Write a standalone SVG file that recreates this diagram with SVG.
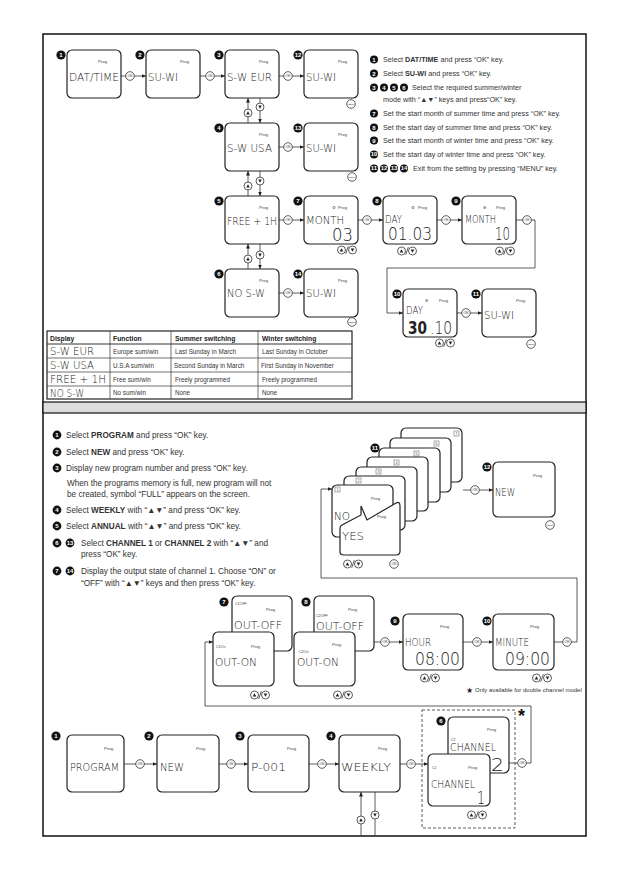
<svg xmlns="http://www.w3.org/2000/svg" width="629" height="893" viewBox="0 0 629 893">
<style>
.box{fill:#fff;stroke:#222;stroke-width:1.2}
.ln{fill:none;stroke:#333;stroke-width:0.8}
.bdc{fill:#111}
.bdt{fill:#fff;font-family:"Liberation Sans",Arial,sans-serif;font-weight:bold;font-size:6px;text-anchor:middle}
.prog{fill:#444;font-family:"Liberation Sans",Arial,sans-serif;font-size:4.3px}
.sm{fill:#444;font-family:"Liberation Sans",Arial,sans-serif;font-size:3.6px}
.lcd{fill:#222;font-family:"DejaVu Sans","Liberation Sans",sans-serif;font-weight:200;font-size:10.5px}
.big{fill:#222;font-family:"DejaVu Sans","Liberation Sans",sans-serif;font-weight:200;font-size:17px}
.bold{font-weight:bold}
.ins{fill:#333;font-family:"Liberation Sans",Arial,sans-serif;font-size:7.2px}
.ins2{fill:#333;font-family:"Liberation Sans",Arial,sans-serif;font-size:8.2px}
.tb{fill:#333;font-family:"Liberation Sans",Arial,sans-serif;font-size:6.3px}
.th{fill:#222;font-family:"Liberation Sans",Arial,sans-serif;font-size:6.8px;font-weight:bold}
</style>
<defs>
<marker id="ah" markerUnits="userSpaceOnUse" viewBox="0 0 6 6" refX="6" refY="3" markerWidth="4.5" markerHeight="4.5" orient="auto"><path d="M0,0.4 L6,3 L0,5.6z" fill="#222"/></marker>
<g id="ok"><circle r="4.3" fill="#fff" stroke="#333" stroke-width="0.8"/><text y="1.3" font-family="Liberation Sans,Arial,sans-serif" font-size="3.6" text-anchor="middle" fill="#333">OK</text></g>
<g id="menu"><circle r="4.3" fill="#fff" stroke="#333" stroke-width="0.8"/><text y="0.8" font-family="Liberation Sans,Arial,sans-serif" font-size="2.3" text-anchor="middle" fill="#333">MENU</text></g>
<g id="up"><circle r="4" fill="#fff" stroke="#333" stroke-width="0.8"/><path d="M-1.8,1.4 L1.8,1.4 L0,-1.8z" fill="#222"/></g>
<g id="dn"><circle r="4" fill="#fff" stroke="#333" stroke-width="0.8"/><path d="M-1.8,-1.4 L1.8,-1.4 L0,1.8z" fill="#222"/></g>
<g id="ud"><use href="#up" x="-5.5"/><use href="#dn" x="5.5"/><line x1="-1.3" y1="3.8" x2="1.3" y2="-3.8" stroke="#333" stroke-width="0.8"/></g>
</defs>
<rect width="629" height="893" fill="#fff"/>
<rect x="43" y="34" width="543" height="802" fill="none" stroke="#111" stroke-width="1.5"/>
<rect x="43" y="402" width="543" height="11" fill="#dcdcdc" stroke="#111" stroke-width="1.2"/>

<!-- Section 1 connectors -->
<g id="connectors-1">
<line class="ln" x1="121" y1="76" x2="146" y2="76" marker-end="url(#ah)"/>
<line class="ln" x1="200" y1="76" x2="225" y2="76" marker-end="url(#ah)"/>
<line class="ln" x1="279" y1="76" x2="304" y2="76" marker-end="url(#ah)"/>
<line class="ln" x1="248" y1="123" x2="248" y2="98" marker-end="url(#ah)"/>
<line class="ln" x1="260" y1="98" x2="260" y2="123" marker-end="url(#ah)"/>
<line class="ln" x1="279" y1="147" x2="304" y2="147" marker-end="url(#ah)"/>
<line class="ln" x1="248" y1="196" x2="248" y2="171" marker-end="url(#ah)"/>
<line class="ln" x1="260" y1="171" x2="260" y2="196" marker-end="url(#ah)"/>
<line class="ln" x1="279" y1="220" x2="304" y2="220" marker-end="url(#ah)"/>
<line class="ln" x1="358" y1="220" x2="383" y2="220" marker-end="url(#ah)"/>
<line class="ln" x1="437" y1="220" x2="462" y2="220" marker-end="url(#ah)"/>
<polyline class="ln" points="516,220 535,220 535,268 387,268 387,313 403,313" marker-end="url(#ah)"/>
<line class="ln" x1="248" y1="269" x2="248" y2="244" marker-end="url(#ah)"/>
<line class="ln" x1="260" y1="244" x2="260" y2="269" marker-end="url(#ah)"/>
<line class="ln" x1="279" y1="293" x2="304" y2="293" marker-end="url(#ah)"/>
<line class="ln" x1="457" y1="313" x2="482" y2="313" marker-end="url(#ah)"/>
<use href="#ok" x="130" y="76"/><use href="#ok" x="210" y="76"/><use href="#ok" x="288" y="76"/>
<use href="#up" x="248" y="113"/><use href="#dn" x="260" y="107"/>
<use href="#ok" x="288" y="147"/>
<use href="#up" x="248" y="186"/><use href="#dn" x="260" y="181"/>
<use href="#ok" x="288" y="220"/><use href="#ok" x="367" y="220"/><use href="#ok" x="446" y="220"/><use href="#ok" x="527" y="220"/>
<use href="#up" x="248" y="259"/><use href="#dn" x="260" y="255"/>
<use href="#ok" x="288" y="293"/><use href="#ok" x="466" y="313"/>
</g>

<!-- Section 1 nodes -->
<g id="s1-n1"><rect class="box" x="67" y="50" width="54" height="48" rx="5"/><circle class="bdc" cx="61" cy="55" r="4.6"/><text class="bdt" x="61" y="57.2">1</text><text class="prog" x="98" y="63">Prog</text><text class="lcd" x="69" y="81" textLength="50" lengthAdjust="spacingAndGlyphs">DAT/TIME</text></g>
<g id="s1-n2"><rect class="box" x="146" y="50" width="54" height="48" rx="5"/><circle class="bdc" cx="140" cy="55" r="4.6"/><text class="bdt" x="140" y="57.2">2</text><text class="prog" x="180" y="63">Prog</text><text class="lcd" x="148" y="81" textLength="30" lengthAdjust="spacingAndGlyphs">SU-WI</text></g>
<g id="s1-n3"><rect class="box" x="225" y="50" width="54" height="48" rx="5"/><circle class="bdc" cx="219" cy="55" r="4.6"/><text class="bdt" x="219" y="57.2">3</text><text class="prog" x="259" y="63">Prog</text><text class="lcd" x="227" y="81" textLength="45" lengthAdjust="spacingAndGlyphs">S-W EUR</text></g>
<g id="s1-n12"><rect class="box" x="304" y="50" width="54" height="48" rx="5"/><circle class="bdc" cx="298" cy="55" r="4.6"/><text class="bdt" x="298" y="57" font-size="5.4">12</text><text class="prog" x="338" y="63">Prog</text><text class="lcd" x="306" y="81" textLength="30" lengthAdjust="spacingAndGlyphs">SU-WI</text><use href="#menu" x="351" y="104"/></g>
<g id="s1-n4"><rect class="box" x="225" y="123" width="54" height="48" rx="5"/><circle class="bdc" cx="219" cy="128" r="4.6"/><text class="bdt" x="219" y="130.2">4</text><text class="prog" x="259" y="136">Prog</text><text class="lcd" x="227" y="152" textLength="45" lengthAdjust="spacingAndGlyphs">S-W USA</text></g>
<g id="s1-n13"><rect class="box" x="304" y="123" width="54" height="48" rx="5"/><circle class="bdc" cx="298" cy="128" r="4.6"/><text class="bdt" x="298" y="130" font-size="5.4">13</text><text class="prog" x="338" y="136">Prog</text><text class="lcd" x="306" y="152" textLength="30" lengthAdjust="spacingAndGlyphs">SU-WI</text><use href="#menu" x="352" y="177"/></g>
<g id="s1-n5"><rect class="box" x="225" y="196" width="54" height="48" rx="5"/><circle class="bdc" cx="219" cy="201" r="4.6"/><text class="bdt" x="219" y="203.2">5</text><text class="prog" x="259" y="209">Prog</text><text class="lcd" x="227" y="225" textLength="50" lengthAdjust="spacingAndGlyphs">FREE + 1H</text></g>
<g id="s1-n7"><rect class="box" x="304" y="196" width="54" height="48" rx="5"/><circle class="bdc" cx="298" cy="201" r="4.6"/><text class="bdt" x="298" y="203.2">7</text><circle cx="334" cy="207.5" r="1.1" fill="none" stroke="#444" stroke-width="0.6"/><text class="prog" x="338" y="209">Prog</text><text class="lcd" x="306" y="224" textLength="38" lengthAdjust="spacingAndGlyphs">MONTH</text><text class="big" x="332" y="241" textLength="21" lengthAdjust="spacingAndGlyphs">03</text><use href="#ud" x="347" y="250"/></g>
<g id="s1-n8"><rect class="box" x="383" y="196" width="54" height="48" rx="5"/><circle class="bdc" cx="377" cy="201" r="4.6"/><text class="bdt" x="377" y="203.2">8</text><circle cx="413" cy="207.5" r="1.1" fill="none" stroke="#444" stroke-width="0.6"/><text class="prog" x="418" y="209">Prog</text><text class="lcd" x="385" y="223" textLength="17" lengthAdjust="spacingAndGlyphs">DAY</text><text class="big" x="388" y="240" textLength="44" lengthAdjust="spacingAndGlyphs">01.03</text><use href="#ud" x="407" y="251"/></g>
<g id="s1-n9"><rect class="box" x="462" y="196" width="54" height="48" rx="5"/><circle class="bdc" cx="456" cy="201" r="4.6"/><text class="bdt" x="456" y="203.2">9</text><text class="sm" x="483" y="209">✲</text><text class="prog" x="496" y="209">Prog</text><text class="lcd" x="465" y="223" textLength="31" lengthAdjust="spacingAndGlyphs">MONTH</text><text class="big" x="495" y="240" textLength="15" lengthAdjust="spacingAndGlyphs">10</text><use href="#ud" x="505" y="251"/></g>
<g id="s1-n6"><rect class="box" x="225" y="269" width="54" height="48" rx="5"/><circle class="bdc" cx="219" cy="274" r="4.6"/><text class="bdt" x="219" y="276.2">6</text><text class="prog" x="259" y="282">Prog</text><text class="lcd" x="227" y="297" textLength="38" lengthAdjust="spacingAndGlyphs">NO S-W</text></g>
<g id="s1-n14"><rect class="box" x="304" y="269" width="54" height="48" rx="5"/><circle class="bdc" cx="298" cy="274" r="4.6"/><text class="bdt" x="298" y="276" font-size="5.4">14</text><text class="prog" x="338" y="282">Prog</text><text class="lcd" x="306" y="297" textLength="30" lengthAdjust="spacingAndGlyphs">SU-WI</text><use href="#menu" x="352" y="322"/></g>
<g id="s1-n10"><rect class="box" x="403" y="289" width="54" height="48" rx="5"/><circle class="bdc" cx="397" cy="294" r="4.6"/><text class="bdt" x="397" y="296" font-size="5.4">10</text><text class="sm" x="425" y="302">✲</text><text class="prog" x="439" y="302">Prog</text><text class="lcd" x="406" y="314" textLength="17" lengthAdjust="spacingAndGlyphs">DAY</text><text class="big bold" x="408" y="334" font-size="15" textLength="19" lengthAdjust="spacingAndGlyphs">30</text><text class="big" x="430" y="334" textLength="22" lengthAdjust="spacingAndGlyphs">.10</text><use href="#ud" x="445" y="343"/></g>
<g id="s1-n11"><rect class="box" x="482" y="289" width="54" height="48" rx="5"/><circle class="bdc" cx="476" cy="294" r="4.6"/><text class="bdt" x="476" y="296" font-size="5.4">11</text><text class="prog" x="516" y="302">Prog</text><text class="lcd" x="484" y="319" textLength="30" lengthAdjust="spacingAndGlyphs">SU-WI</text><use href="#menu" x="531" y="344"/></g>

<!-- Section 1 instructions -->
<g id="s1-text">
<circle class="bdc" cx="374" cy="59.5" r="4"/><text class="bdt" x="374" y="61.6">1</text>
<text class="ins" x="383" y="62">Select <tspan font-weight="bold">DAT/TIME</tspan> and press “OK” key.</text>
<circle class="bdc" cx="374" cy="73.5" r="4"/><text class="bdt" x="374" y="75.6">2</text>
<text class="ins" x="383" y="76">Select <tspan font-weight="bold">SU-WI</tspan> and press “OK” key.</text>
<circle class="bdc" cx="374" cy="87.5" r="4"/><text class="bdt" x="374" y="89.6">3</text>
<circle class="bdc" cx="384" cy="87.5" r="4"/><text class="bdt" x="384" y="89.6">4</text>
<circle class="bdc" cx="394" cy="87.5" r="4"/><text class="bdt" x="394" y="89.6">5</text>
<circle class="bdc" cx="404" cy="87.5" r="4"/><text class="bdt" x="404" y="89.6">6</text>
<text class="ins" x="412" y="90">Select the required summer/winter</text>
<text class="ins" x="383" y="102">mode with “▲▼” keys and press“OK” key.</text>
<circle class="bdc" cx="374" cy="113.5" r="4"/><text class="bdt" x="374" y="115.6">7</text>
<text class="ins" x="383" y="116">Set the start month of summer time and press “OK” key.</text>
<circle class="bdc" cx="374" cy="127.5" r="4"/><text class="bdt" x="374" y="129.6">8</text>
<text class="ins" x="383" y="130">Set the start day of summer time and press “OK” key.</text>
<circle class="bdc" cx="374" cy="140.5" r="4"/><text class="bdt" x="374" y="142.6">9</text>
<text class="ins" x="383" y="143">Set the start month of winter time and press “OK” key.</text>
<circle class="bdc" cx="374" cy="154.5" r="4"/><text class="bdt" x="374" y="156.4" font-size="5">10</text>
<text class="ins" x="383" y="157">Set the start day of winter time and press “OK” key.</text>
<circle class="bdc" cx="374" cy="168.5" r="4"/><text class="bdt" x="374" y="170.4" font-size="5">11</text>
<circle class="bdc" cx="384" cy="168.5" r="4"/><text class="bdt" x="384" y="170.4" font-size="5">12</text>
<circle class="bdc" cx="394" cy="168.5" r="4"/><text class="bdt" x="394" y="170.4" font-size="5">13</text>
<circle class="bdc" cx="404" cy="168.5" r="4"/><text class="bdt" x="404" y="170.4" font-size="5">14</text>
<text class="ins" x="413" y="171">Exit from the setting by pressing “MENU” key.</text>
</g>

<!-- Table -->
<g id="table">
<rect x="47" y="331" width="305" height="68" fill="#fff" stroke="#222" stroke-width="1.2"/>
<g stroke="#333" stroke-width="0.7">
<line x1="110" y1="331" x2="110" y2="399"/><line x1="171" y1="331" x2="171" y2="399"/><line x1="258" y1="331" x2="258" y2="399"/>
<line x1="47" y1="344" x2="352" y2="344" stroke-width="1"/><line x1="47" y1="358" x2="352" y2="358"/><line x1="47" y1="372" x2="352" y2="372"/><line x1="47" y1="386" x2="352" y2="386"/>
</g>
<text class="th" x="50" y="340.5">Display</text><text class="th" x="113" y="340.5">Function</text><text class="th" x="175" y="340.5">Summer switching</text><text class="th" x="262" y="340.5">Winter switching</text>
<text class="lcd" x="50" y="355" textLength="44" lengthAdjust="spacingAndGlyphs">S-W EUR</text><text class="tb" x="113" y="353.5">Europe sum/win</text><text class="tb" x="175" y="353.5">Last Sunday in March</text><text class="tb" x="262" y="353.5">Last Sunday in October</text>
<text class="lcd" x="50" y="369" textLength="44" lengthAdjust="spacingAndGlyphs">S-W USA</text><text class="tb" x="113" y="367.5">U.S.A sum/win</text><text class="tb" x="174" y="367.5">Second Sunday in March</text><text class="tb" x="261" y="367.5">First Sunday in November</text>
<text class="lcd" x="50" y="383" textLength="56" lengthAdjust="spacingAndGlyphs">FREE + 1H</text><text class="tb" x="113" y="381.5">Free sum/win</text><text class="tb" x="175" y="381.5">Freely programmed</text><text class="tb" x="262" y="381.5">Freely programmed</text>
<text class="lcd" x="50" y="397" textLength="34" lengthAdjust="spacingAndGlyphs">NO S-W</text><text class="tb" x="113" y="395">No sum/win</text><text class="tb" x="175" y="395">None</text><text class="tb" x="262" y="395">None</text>
</g>

<!-- Section 2 instructions -->
<g id="s2-text">
<circle class="bdc" cx="57" cy="435" r="4.4"/><text class="bdt" x="57" y="437.2">1</text>
<text class="ins2" x="66" y="438">Select <tspan font-weight="bold">PROGRAM</tspan> and press “OK” key.</text>
<circle class="bdc" cx="57" cy="452" r="4.4"/><text class="bdt" x="57" y="454.2">2</text>
<text class="ins2" x="66" y="455">Select <tspan font-weight="bold">NEW</tspan> and press “OK” key.</text>
<circle class="bdc" cx="57" cy="468" r="4.4"/><text class="bdt" x="57" y="470.2">3</text>
<text class="ins2" x="66" y="471">Display new program number and press “OK” key.</text>
<text class="ins2" x="67" y="486">When the programs memory is full, new program will not</text>
<text class="ins2" x="67" y="497">be created, symbol “FULL” appears on  the screen.</text>
<circle class="bdc" cx="57" cy="510" r="4.4"/><text class="bdt" x="57" y="512.2">4</text>
<text class="ins2" x="66" y="513">Select <tspan font-weight="bold">WEEKLY</tspan> with “▲▼” and press “OK” key.</text>
<circle class="bdc" cx="57" cy="526" r="4.4"/><text class="bdt" x="57" y="528.2">5</text>
<text class="ins2" x="66" y="529">Select <tspan font-weight="bold">ANNUAL</tspan> with “▲▼” and press “OK” key.</text>
<circle class="bdc" cx="57" cy="543" r="4.4"/><text class="bdt" x="57" y="545.2">6</text>
<circle class="bdc" cx="70" cy="543" r="4.4"/><text class="bdt" x="70" y="545" font-size="5">13</text>
<text class="ins2" x="81" y="546">Select <tspan font-weight="bold">CHANNEL 1</tspan> or <tspan font-weight="bold">CHANNEL 2</tspan> with “▲▼” and</text>
<text class="ins2" x="81" y="557">press “OK” key.</text>
<circle class="bdc" cx="57" cy="571" r="4.4"/><text class="bdt" x="57" y="573.2">7</text>
<circle class="bdc" cx="70" cy="571" r="4.4"/><text class="bdt" x="70" y="573" font-size="5">14</text>
<text class="ins2" x="81" y="574">Display the output state of channel 1. Choose “ON” or</text>
<text class="ins2" x="81" y="586">“OFF” with “▲▼” keys and  then press “OK” key.</text>
</g>

<!-- Section 2 connectors -->
<g id="connectors-2">
<polyline class="ln" points="554,642 577,642 577,578 321,578 321,489 332,489" marker-end="url(#ah)"/>
<line class="ln" x1="463" y1="490" x2="493" y2="490" marker-end="url(#ah)"/>
<line class="ln" x1="374" y1="642" x2="403" y2="642" marker-end="url(#ah)"/>
<line class="ln" x1="463" y1="642" x2="493" y2="642" marker-end="url(#ah)"/>
<polyline class="ln" points="509,763 531,763 531,706 205,706 205,642 213,642" marker-end="url(#ah)"/>
<line class="ln" x1="124" y1="764" x2="157" y2="764" marker-end="url(#ah)"/>
<line class="ln" x1="219" y1="764" x2="248" y2="764" marker-end="url(#ah)"/>
<line class="ln" x1="309" y1="764" x2="339" y2="764" marker-end="url(#ah)"/>
<line class="ln" x1="400" y1="764" x2="428" y2="764" marker-end="url(#ah)"/>
<line class="ln" x1="361" y1="836" x2="361" y2="792" marker-end="url(#ah)"/>
<line class="ln" x1="375" y1="792" x2="375" y2="836"/>
<use href="#ok" x="475" y="490"/>
<use href="#ok" x="385" y="642"/><use href="#ok" x="477" y="642"/><use href="#ok" x="567" y="642"/>
<use href="#ok" x="140" y="764"/><use href="#ok" x="231" y="764"/><use href="#ok" x="322" y="764"/><use href="#ok" x="411" y="764"/><use href="#ok" x="522" y="763"/>
<use href="#up" x="361" y="820"/><use href="#dn" x="375" y="815"/>
</g>

<!-- Stack of day screens -->
<g id="s2-n11">
<rect class="box" x="401" y="428" width="61" height="54" rx="5"/><rect x="454" y="431" width="5" height="5" fill="#fff" stroke="#555" stroke-width="0.5"/><text class="sm" x="456.5" y="435" text-anchor="middle" font-size="3.5">7</text>
<rect class="box" x="390" y="438" width="61" height="54" rx="5"/><rect x="434" y="441" width="5" height="5" fill="#fff" stroke="#555" stroke-width="0.5"/><text class="sm" x="436.5" y="445" text-anchor="middle" font-size="3.5">6</text>
<rect class="box" x="379" y="448" width="61" height="54" rx="5"/><rect x="414" y="451" width="5" height="5" fill="#fff" stroke="#555" stroke-width="0.5"/><text class="sm" x="416.5" y="455" text-anchor="middle" font-size="3.5">5</text>
<rect class="box" x="367" y="457" width="61" height="54" rx="5"/><rect x="394" y="460" width="5" height="5" fill="#fff" stroke="#555" stroke-width="0.5"/><text class="sm" x="396.5" y="464" text-anchor="middle" font-size="3.5">4</text>
<rect class="box" x="356" y="467" width="61" height="54" rx="5"/><rect x="376" y="469" width="5" height="5" fill="#fff" stroke="#555" stroke-width="0.5"/><text class="sm" x="378.5" y="473" text-anchor="middle" font-size="3.5">3</text>
<rect class="box" x="344" y="476" width="61" height="54" rx="5"/><rect x="356" y="478" width="5" height="5" fill="#fff" stroke="#555" stroke-width="0.5"/><text class="sm" x="358.5" y="482" text-anchor="middle" font-size="3.5">2</text>
<rect class="box" x="332" y="485" width="61" height="52" rx="5"/><rect x="335" y="487" width="5" height="5" fill="#fff" stroke="#555" stroke-width="0.5"/><text class="sm" x="337.5" y="491" text-anchor="middle" font-size="3.5">1</text>
<text class="prog" x="371" y="500">Prog</text>
<text class="lcd" x="334" y="520" font-size="14" textLength="16" lengthAdjust="spacingAndGlyphs">NO</text>
<path class="box" d="M340,552 L340,528 Q340,526 342,525 L361,515 L361,506 L367,520 L396,503 Q400,501 400,506 L400,551 Q400,555 396,555 L344,555 Q340,555 340,552 Z"/>
<text class="prog" x="377" y="518">Prog</text>
<text class="lcd" x="342" y="540" font-size="14" textLength="22" lengthAdjust="spacingAndGlyphs">YES</text>
<circle class="bdc" cx="375" cy="448" r="4.6"/><text class="bdt" x="375" y="450" font-size="5.4">11</text>
<use href="#ud" x="353" y="564"/><use href="#ok" x="394" y="564"/>
</g>
<g id="s2-n12"><rect class="box" x="493" y="462" width="62" height="55" rx="5"/><circle class="bdc" cx="487" cy="467" r="4.6"/><text class="bdt" x="487" y="469" font-size="5.4">12</text><text class="prog" x="533" y="477">Prog</text><text class="lcd" x="495" y="496" font-size="12" textLength="20" lengthAdjust="spacingAndGlyphs">NEW</text><use href="#menu" x="550" y="525"/></g>

<!-- Output state cards -->
<g id="s2-n7">
<rect class="box" x="232" y="596" width="60" height="55" rx="5"/><text class="sm" x="235" y="605">C1OFF</text><text class="prog" x="266" y="611">Prog</text><text class="lcd" x="234" y="629" font-size="13" textLength="48" lengthAdjust="spacingAndGlyphs">OUT-OFF</text>
<rect class="box" x="213" y="632" width="61" height="54" rx="5"/><text class="sm" x="216" y="648">C1On</text><text class="prog" x="251" y="648">Prog</text><text class="lcd" x="215" y="666" font-size="13" textLength="42" lengthAdjust="spacingAndGlyphs">OUT-ON</text>
<circle class="bdc" cx="224" cy="602" r="4.6"/><text class="bdt" x="224" y="604.2">7</text>
<use href="#ud" x="260" y="695"/>
</g>
<g id="s2-n8">
<rect class="box" x="314" y="596" width="60" height="55" rx="5"/><text class="sm" x="316" y="617">C2OFF</text><text class="prog" x="348" y="611">Prog</text><text class="lcd" x="316" y="630" font-size="13" textLength="48" lengthAdjust="spacingAndGlyphs">OUT-OFF</text>
<rect class="box" x="294" y="632" width="61" height="54" rx="5"/><text class="sm" x="299" y="653">C2On</text><text class="prog" x="332" y="646">Prog</text><text class="lcd" x="297" y="666" font-size="13" textLength="42" lengthAdjust="spacingAndGlyphs">OUT-ON</text>
<circle class="bdc" cx="306" cy="602" r="4.6"/><text class="bdt" x="306" y="604.2">8</text>
<use href="#ud" x="343" y="695"/>
</g>
<g id="s2-n9"><rect class="box" x="403" y="614" width="60" height="56" rx="5"/><circle class="bdc" cx="395" cy="621" r="4.6"/><text class="bdt" x="395" y="623.2">9</text><text class="prog" x="440" y="628">Prog</text><text class="lcd" x="405" y="646" font-size="13" textLength="26" lengthAdjust="spacingAndGlyphs">HOUR</text><text class="big" x="415" y="665" font-size="20" textLength="45" lengthAdjust="spacingAndGlyphs">08:00</text><use href="#ud" x="430" y="678"/></g>
<g id="s2-n10"><rect class="box" x="493" y="614" width="61" height="56" rx="5"/><circle class="bdc" cx="487" cy="621" r="4.6"/><text class="bdt" x="487" y="623" font-size="5.4">10</text><text class="prog" x="530" y="628">Prog</text><text class="lcd" x="495" y="646" font-size="13" textLength="34" lengthAdjust="spacingAndGlyphs">MINUTE</text><text class="big" x="505" y="665" font-size="20" textLength="45" lengthAdjust="spacingAndGlyphs">09:00</text><use href="#ud" x="542" y="678"/></g>

<g id="note"><text x="466" y="693" font-family="Liberation Sans,Arial,sans-serif" font-size="8" fill="#222">★</text><text x="475" y="692" font-family="Liberation Sans,Arial,sans-serif" font-size="6" fill="#333">Only available for double channel model</text></g>

<!-- Bottom row -->
<g id="s2-b1"><rect class="box" x="67" y="735" width="57" height="57" rx="5"/><circle class="bdc" cx="56" cy="736" r="4.6"/><text class="bdt" x="56" y="738.2">1</text><text class="prog" x="104" y="750">Prog</text><text class="lcd" x="70" y="771" font-size="12" textLength="49" lengthAdjust="spacingAndGlyphs">PROGRAM</text></g>
<g id="s2-b2"><rect class="box" x="157" y="735" width="62" height="57" rx="5"/><circle class="bdc" cx="149" cy="736" r="4.6"/><text class="bdt" x="149" y="738.2">2</text><text class="prog" x="196" y="750">Prog</text><text class="lcd" x="160" y="771" font-size="12" textLength="24" lengthAdjust="spacingAndGlyphs">NEW</text></g>
<g id="s2-b3"><rect class="box" x="248" y="735" width="61" height="57" rx="5"/><circle class="bdc" cx="240" cy="736" r="4.6"/><text class="bdt" x="240" y="738.2">3</text><text class="prog" x="287" y="750">Prog</text><text class="lcd" x="251" y="771" font-size="12" textLength="35" lengthAdjust="spacingAndGlyphs">P-001</text></g>
<g id="s2-b4"><rect class="box" x="339" y="735" width="61" height="57" rx="5"/><circle class="bdc" cx="331" cy="736" r="4.6"/><text class="bdt" x="331" y="738.2">4</text><text class="prog" x="378" y="750">Prog</text><text class="lcd" x="341" y="771" font-size="12" textLength="50" lengthAdjust="spacingAndGlyphs">WEEKLY</text></g>
<g id="s2-b6">
<rect x="422" y="710" width="93" height="118" fill="none" stroke="#333" stroke-width="0.8" stroke-dasharray="3,2"/>
<rect class="box" x="448" y="717" width="61" height="56" rx="5"/><text class="prog" x="487" y="731">Prog</text><text class="sm" x="451" y="741">C2</text><text class="lcd" x="450" y="751" font-size="11" textLength="46" lengthAdjust="spacingAndGlyphs">CHANNEL</text><text class="big" x="491" y="771" font-size="18" textLength="13" lengthAdjust="spacingAndGlyphs">2</text>
<rect class="box" x="428" y="754" width="62" height="52" rx="5"/><text class="sm" x="432" y="769">C1</text><text class="prog" x="468" y="769">Prog</text><text class="lcd" x="431" y="788" font-size="11.5" textLength="44" lengthAdjust="spacingAndGlyphs">CHANNEL</text><text class="big" x="477" y="804" font-size="13" textLength="8" lengthAdjust="spacingAndGlyphs">1</text>
<circle class="bdc" cx="441" cy="721" r="4.6"/><text class="bdt" x="441" y="723.2">6</text>
<use href="#ud" x="477" y="815"/>
<text x="518" y="722" font-family="Liberation Sans,Arial,sans-serif" font-size="18" font-weight="bold" fill="#111">*</text>
</g>
</svg>
